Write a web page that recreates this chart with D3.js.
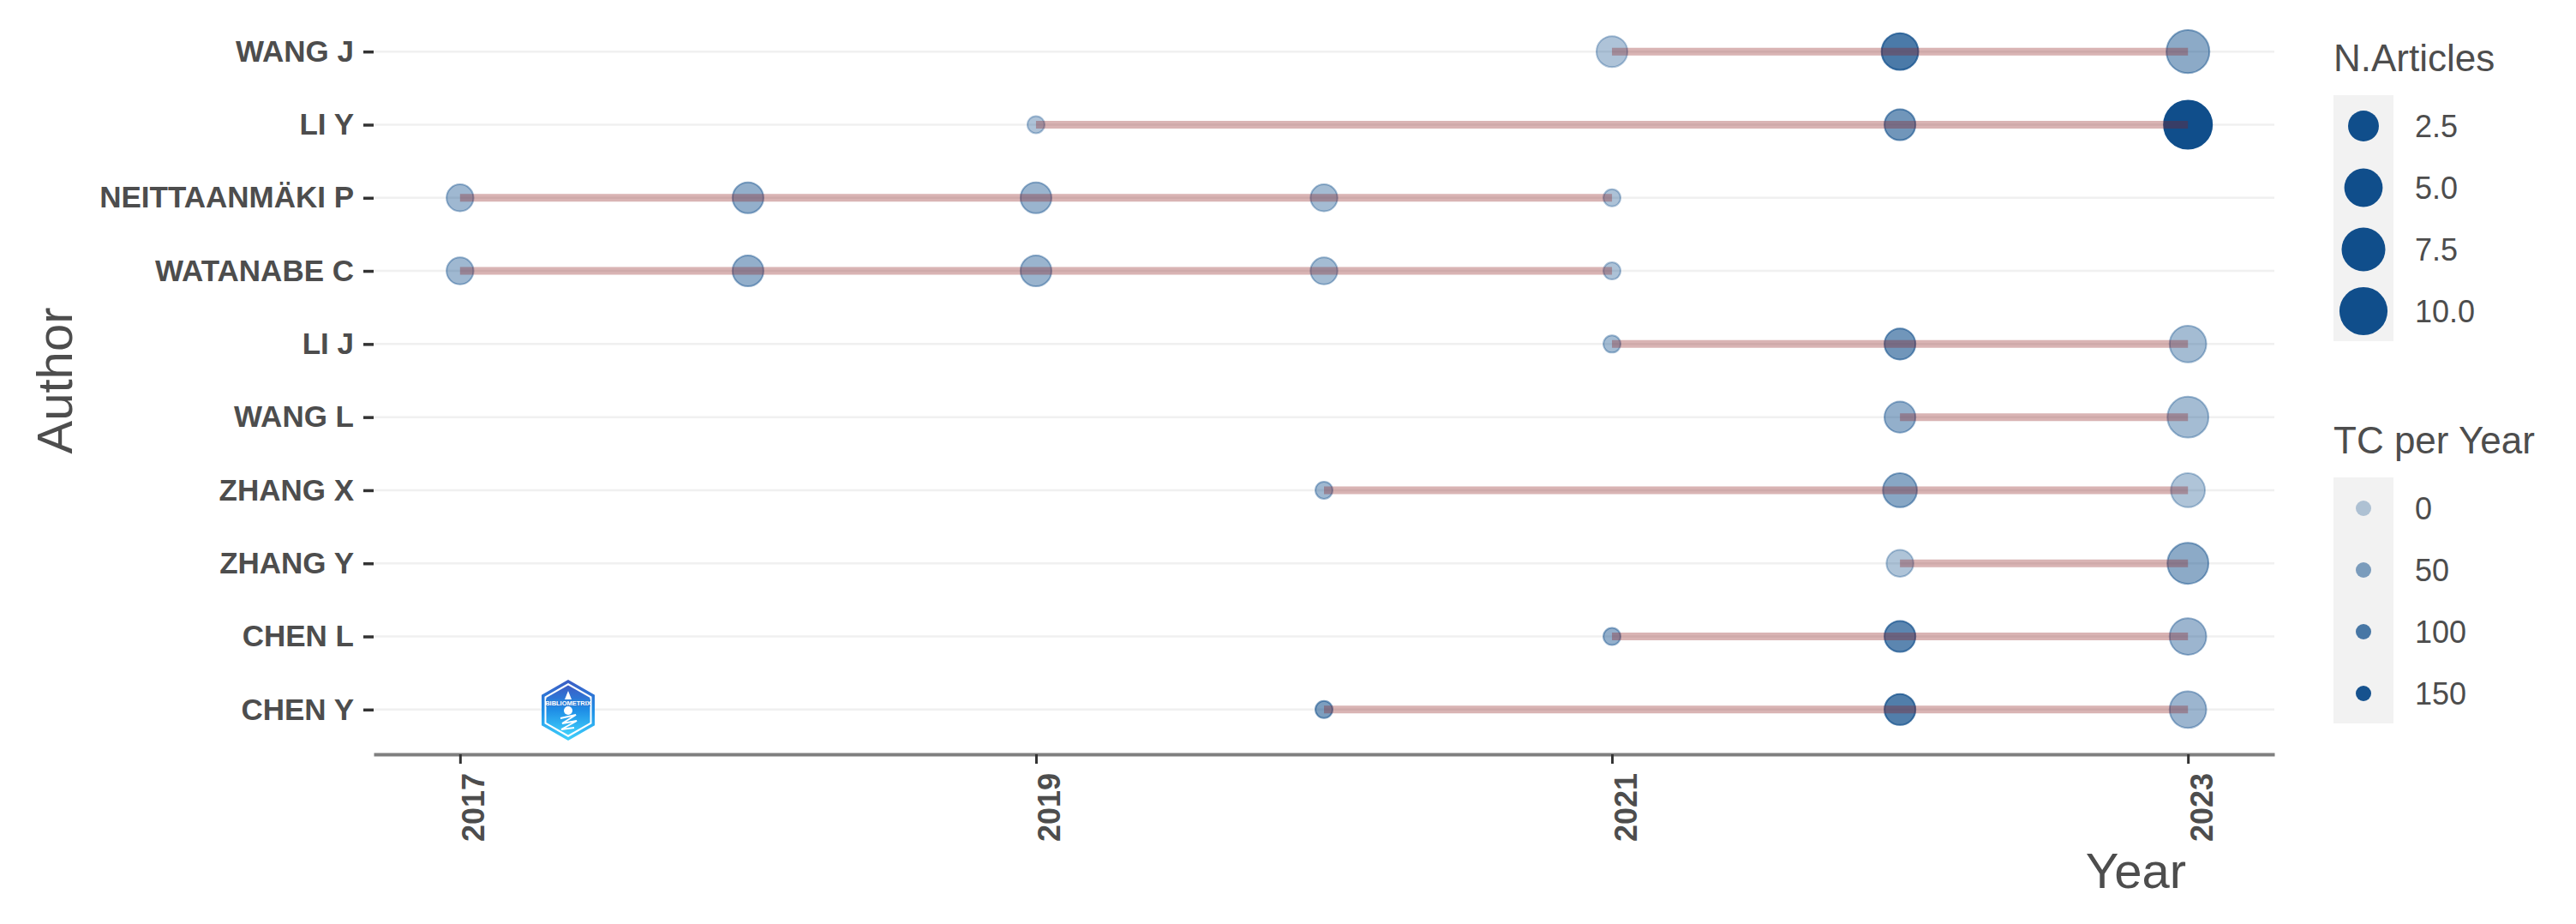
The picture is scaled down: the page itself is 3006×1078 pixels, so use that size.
<!DOCTYPE html>
<html>
<head>
<meta charset="utf-8">
<script src="https://cdn.jsdelivr.net/npm/d3@7"></script>
<style>
  html, body { margin: 0; padding: 0; background: #fff; }
  text { font-family: "Liberation Sans", Arial, sans-serif; fill: #4d4d4d; }
</style>
</head>
<body>
<div id="graph"></div>
<script>
let authors = ['WANG J', 'LI Y', 'NEITTAANMÄKI P', 'WATANABE C', 'LI J', 'WANG L', 'ZHANG X', 'ZHANG Y', 'CHEN L', 'CHEN Y'];
let tickYears = [2017, 2019, 2021, 2023];

// one entry per point, same order in the 4 lists
let pointAuthor = ['WANG J','WANG J','WANG J', 'LI Y','LI Y','LI Y',
  'NEITTAANMÄKI P','NEITTAANMÄKI P','NEITTAANMÄKI P','NEITTAANMÄKI P','NEITTAANMÄKI P',
  'WATANABE C','WATANABE C','WATANABE C','WATANABE C','WATANABE C',
  'LI J','LI J','LI J', 'WANG L','WANG L', 'ZHANG X','ZHANG X','ZHANG X',
  'ZHANG Y','ZHANG Y', 'CHEN L','CHEN L','CHEN L', 'CHEN Y','CHEN Y','CHEN Y'];
let pointYear = [2021,2022,2023, 2019,2022,2023,
  2017,2018,2019,2020,2021,
  2017,2018,2019,2020,2021,
  2021,2022,2023, 2022,2023, 2020,2022,2023,
  2022,2023, 2021,2022,2023, 2020,2022,2023];
let pointArticles = [3,5,8, 1,3,11,
  2,3,3,2,1,
  2,3,3,2,1,
  1,3,5, 3,7, 1,4,4,
  2,7, 1,3,5, 1,3,5];
let pointTc = [8,100,40, 8,65,155,
  22,33,27,18,10,
  22,33,27,18,10,
  18,65,18, 33,18, 22,44,7,
  7,40, 33,85,26, 55,95,26];

let articleLegend = [2.5, 5, 7.5, 10];
let tcLegend = [0, 50, 100, 150];

let width = 3006,
    height = 1078,
    blue = '#104E8B';

let svg = d3.select('#graph').append('svg')
  .attr('width', width)
  .attr('height', height)
  .style('display', 'block');

let xScale = d3.scaleLinear().domain([2016.7, 2023.3]).range([436, 2654]);
let yScale = d3.scalePoint().domain(authors).range([9, 879]).padding(0.6);
let alphaScale = d3.scaleLinear().domain([0, 155]).range([0.3, 1]);
// ggplot area palette: radius grows with sqrt of the rescaled count
let radiusScale = d3.scaleLinear().domain([0, 1]).range([10, 28]);
let radius = n => radiusScale(Math.sqrt((n - 1) / 10));

// grid
svg.append('g').selectAll('line')
  .data(authors)
  .join('line')
  .attr('x1', xScale.range()[0])
  .attr('x2', xScale.range()[1])
  .attr('y1', d => yScale(d))
  .attr('y2', d => yScale(d))
  .attr('stroke', '#f0f0f0')
  .attr('stroke-width', 2.5);

// axes
let xAxis = svg.append('g')
  .attr('transform', 'translate(0,880)')
  .call(d3.axisBottom(xScale).tickValues(tickYears).tickFormat(d3.format('d')).tickSize(11).tickSizeOuter(0));
xAxis.select('.domain').attr('stroke', '#7f7f7f').attr('stroke-width', 4);
xAxis.selectAll('.tick line').attr('stroke', '#333').attr('stroke-width', 3);
xAxis.selectAll('.tick text')
  .attr('transform', 'translate(28,22) rotate(-90)')
  .attr('x', 0).attr('y', 0).attr('dy', 0)
  .style('text-anchor', 'end')
  .style('font-size', '36px')
  .style('font-weight', 'bold');

let yAxis = svg.append('g')
  .attr('transform', 'translate(436,0)')
  .call(d3.axisLeft(yScale).tickSize(12).tickPadding(11));
yAxis.select('.domain').remove();
yAxis.selectAll('.tick line').attr('stroke', '#333').attr('stroke-width', 3.5);
yAxis.selectAll('.tick text')
  .style('font-size', '35px')
  .style('font-weight', 'bold');

// axis titles
svg.append('text')
  .attr('text-anchor', 'middle')
  .attr('transform', 'translate(84,444) rotate(-90)')
  .style('font-size', '58px')
  .text('Author');
svg.append('text')
  .attr('text-anchor', 'end')
  .attr('x', 2551)
  .attr('y', 1036)
  .style('font-size', '58px')
  .text('Year');

// points
let points = pointYear.map((d, i) => ({ author: pointAuthor[i], year: d, n: pointArticles[i], tc: pointTc[i] }));

svg.append('g').selectAll('circle')
  .data(points)
  .join('circle')
  .attr('cx', d => xScale(d.year))
  .attr('cy', d => yScale(d.author))
  .attr('r', d => radius(d.n))
  .attr('fill', blue)
  .attr('stroke', blue)
  .attr('stroke-width', 2)
  .attr('fill-opacity', d => alphaScale(d.tc))
  .attr('stroke-opacity', d => alphaScale(d.tc));

// first to last year of each author
svg.append('g').selectAll('line')
  .data(d3.rollups(points, v => d3.extent(v, p => p.year), d => d.author))
  .join('line')
  .attr('x1', d => xScale(d[1][0]))
  .attr('x2', d => xScale(d[1][1]))
  .attr('y1', d => yScale(d[0]))
  .attr('y2', d => yScale(d[0]))
  .attr('stroke', '#8B1A1A')
  .attr('stroke-opacity', 0.33)
  .attr('stroke-width', 9);

// legends
function legend(title, titleY, values, fmt, r, alpha) {
  let g = svg.append('g');
  let step = 72;
  let top = titleY + 28;
  g.append('text')
    .attr('x', 2723)
    .attr('y', titleY)
    .style('font-size', '44px')
    .text(title);
  g.append('rect')
    .attr('x', 2723)
    .attr('y', top)
    .attr('width', 70)
    .attr('height', step * values.length - 1)
    .attr('fill', '#f2f2f2');
  let keys = g.selectAll('g')
    .data(values)
    .join('g')
    .attr('transform', (d, i) => `translate(0,${top + 36 + i * step})`);
  keys.append('circle')
    .attr('cx', 2758)
    .attr('r', r)
    .attr('fill', blue)
    .attr('fill-opacity', alpha);
  keys.append('text')
    .attr('x', 2818)
    .attr('y', 13)
    .style('font-size', '36px')
    .text(fmt);
}

legend('N.Articles', 83, articleLegend, d3.format('.1f'), d => radius(d) + 1, 1);
legend('TC per Year', 529, tcLegend, d3.format('d'), 9, d => alphaScale(d));

// bibliometrix badge
let defs = svg.append('defs');
let grad = defs.append('linearGradient')
  .attr('id', 'badge')
  .attr('x1', 0).attr('x2', 0).attr('y1', 0).attr('y2', 1);
grad.append('stop').attr('offset', 0).attr('stop-color', '#3d5cc4');
grad.append('stop').attr('offset', 0.5).attr('stop-color', '#1f8ee6');
grad.append('stop').attr('offset', 1).attr('stop-color', '#3fd0fb');

function hexagon(cx, cy, rx, ry) {
  return d3.line()([[0, -ry], [rx, -ry / 2], [rx, ry / 2], [0, ry], [-rx, ry / 2], [-rx, -ry / 2]]
    .map(p => [cx + p[0], cy + p[1]])) + 'Z';
}

let logo = svg.append('g');
logo.append('path').attr('d', hexagon(663, 828.5, 31, 35.5)).attr('fill', 'url(#badge)');
logo.append('path').attr('d', hexagon(663, 828.5, 27.5, 31.5)).attr('fill', '#fff');
logo.append('path').attr('d', hexagon(663, 828.5, 25.5, 29)).attr('fill', 'url(#badge)');
logo.append('rect').attr('x', 637).attr('y', 816).attr('width', 52).attr('height', 8).attr('fill', '#2a7ed8');
logo.append('text')
  .attr('x', 663).attr('y', 823)
  .attr('text-anchor', 'middle')
  .style('font-size', '7.5px')
  .style('font-weight', 'bold')
  .style('fill', '#fff')
  .text('BIBLIOMETRIX');
logo.append('path')
  .attr('d', d3.line()([[663, 806], [667, 816], [659, 816]]) + 'Z')
  .attr('fill', '#fff');
logo.append('circle').attr('cx', 663).attr('cy', 829).attr('r', 5).attr('fill', '#fff');
logo.append('path')
  .attr('d', d3.line()([[654, 838], [672, 834], [656, 844], [673, 841], [655, 851], [670, 849]]))
  .attr('fill', 'none')
  .attr('stroke', '#fff')
  .attr('stroke-width', 2);
</script>
</body>
</html>
